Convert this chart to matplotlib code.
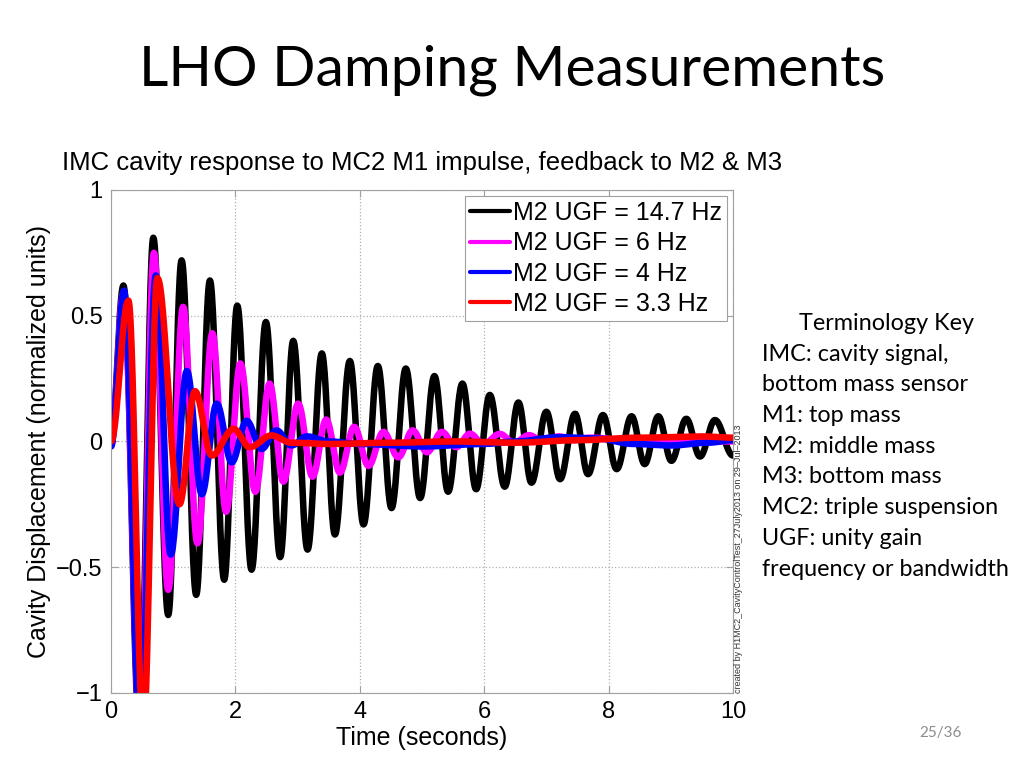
import numpy as np
import matplotlib.pyplot as plt

# extrema (time, value), one list per loop gain
black_t = [0, 0.20, 0.46, 0.68, 0.92, 1.135, 1.37, 1.59, 1.82, 2.03, 2.26, 2.49, 2.72, 2.93, 3.16,
           3.39, 3.60, 3.84, 4.06, 4.29, 4.51, 4.74, 4.97, 5.20, 5.42, 5.65, 5.87, 6.09, 6.33, 6.55,
           6.76, 7.00, 7.22, 7.46, 7.67, 7.91, 8.13, 8.37, 8.58, 8.80, 9.01, 9.25, 9.47, 9.71, 10.0]
black_y = [0.0, 0.62, -1.15, 0.81, -0.69, 0.72, -0.61, 0.64, -0.55, 0.54, -0.51, 0.475, -0.46, 0.40, -0.43,
           0.35, -0.37, 0.32, -0.33, 0.30, -0.265, 0.29, -0.225, 0.26, -0.20, 0.23, -0.19, 0.185, -0.18, 0.155,
           -0.164, 0.118, -0.15, 0.11, -0.13, 0.105, -0.11, 0.10, -0.09, 0.10, -0.077, 0.09, -0.06, 0.085, -0.056]

mag_t = [0, 0.20, 0.47, 0.69, 0.92, 1.16, 1.39, 1.63, 1.85, 2.08, 2.32, 2.55, 2.77, 3.01, 3.24, 3.46,
         3.68, 3.91, 4.14, 4.38, 4.62, 4.85, 5.08, 5.32, 5.55, 5.77, 5.99, 6.25, 6.48, 6.72, 6.95, 7.2,
         7.45, 7.7, 8.5, 10.0]
mag_y = [-0.02, 0.59, -1.15, 0.75, -0.59, 0.535, -0.405, 0.43, -0.28, 0.31, -0.20, 0.23, -0.16, 0.15, -0.14, 0.087,
         -0.124, 0.058, -0.097, 0.038, -0.063, 0.044, -0.043, 0.038, -0.023, 0.031, -0.01, 0.03, -0.005, 0.025, 0.0, 0.02,
         0.005, 0.015, 0.0, 0.0]

blue_t = [0, 0.21, 0.47, 0.72, 0.96, 1.22, 1.46, 1.70, 1.94, 2.18, 2.42, 2.66, 2.90, 3.15, 3.5, 4.0,
          5.0, 6.0, 6.5, 7.2, 7.8, 8.4, 9.0, 9.6, 10.0]
blue_y = [-0.02, 0.60, -1.15, 0.66, -0.45, 0.28, -0.21, 0.15, -0.083, 0.082, -0.03, 0.044, -0.016, 0.02, 0.0, -0.01,
          -0.02, -0.01, 0.0, 0.017, 0.012, -0.01, -0.016, -0.005, 0.005]

red_t = [0, 0.28, 0.52, 0.745, 1.10, 1.35, 1.62, 1.97, 2.23, 2.58, 2.9, 3.5, 4.5, 5.5, 6.5, 7.5, 8.5, 9.5, 10.0]
red_y = [0.0, 0.56, -1.15, 0.65, -0.25, 0.20, -0.056, 0.05, -0.023, 0.024, -0.005, -0.01, -0.005, 0.0, -0.005,
         0.005, 0.015, 0.02, 0.015]

labels = ['M2 UGF = 14.7 Hz', 'M2 UGF = 6 Hz', 'M2 UGF = 4 Hz', 'M2 UGF = 3.3 Hz']
colors = ['black', '#ff00ff', '#0000ff', '#ff0000']

xticks = [0, 2, 4, 6, 8, 10]
yticks = [-1, -0.5, 0, 0.5, 1]
ytick_labels = ['\u22121', '\u22120.5', '0', '0.5', '1']

key_lines = ['IMC: cavity signal,', 'bottom mass sensor', 'M1: top mass', 'M2: middle mass',
             'M3: bottom mass', 'MC2: triple suspension', 'UGF: unity gain', 'frequency or bandwidth']


def through_extrema(t, y, n=30):
    # join successive turning points with half-cosine arcs
    xs, ys = [], []
    for i in range(len(t) - 1):
        s = np.linspace(0, 1, n)
        w = (1 - np.cos(np.pi * s)) / 2
        xs.append(t[i] + (t[i + 1] - t[i]) * s)
        ys.append(y[i] + (y[i + 1] - y[i]) * w)
    return np.concatenate(xs), np.concatenate(ys)


fig = plt.figure(figsize=(10.24, 7.68), dpi=100)
fig.patch.set_facecolor('white')

fig.text(0.5, 0.908, 'LHO Damping Measurements', ha='center', va='center',
         fontsize=41, family='Lato')

ax = fig.add_axes([0.1084, 0.0977, 0.6074, 0.655])
series = [(black_t, black_y), (mag_t, mag_y), (blue_t, blue_y), (red_t, red_y)]
for (t, y), c, lab in zip(series, colors, labels):
    xs, ys = through_extrema(t, y)
    ax.plot(xs, ys, color=c, lw=4.7, label=lab, solid_capstyle='round')

ax.set_xlim(0, 10)
ax.set_ylim(-1, 1)
ax.set_xticks(xticks)
ax.set_yticks(yticks)
ax.set_yticklabels(ytick_labels)
ax.grid(True, linestyle=':', color='#b0b0b0', lw=0.9)
for s in ax.spines.values():
    s.set_color('#a0a0a0')
ax.tick_params(direction='in', length=5, color='#a0a0a0', labelsize=17,
               labelfontfamily='Liberation Sans', top=True, right=True, pad=6)
ax.set_xlabel('Time (seconds)', fontsize=18, family='Liberation Sans', labelpad=2)
ax.set_ylabel('Cavity Displacement (normalized units)', fontsize=18, family='Liberation Sans', labelpad=4)
ax.set_title('IMC cavity response to MC2 M1 impulse, feedback to M2 & M3', fontsize=18.5,
             family='Liberation Sans', pad=14, x=0.5)

leg = ax.legend(loc='upper right', prop={'family': 'Liberation Sans', 'size': 18},
                handlelength=1.6, handletextpad=0.1, borderpad=0.2, labelspacing=0.25,
                fancybox=False, framealpha=1, borderaxespad=0.25)
leg.get_frame().set_edgecolor('#a0a0a0')
leg.get_frame().set_linewidth(0.8)
for h in leg.get_lines():
    h.set_linewidth(3)

fig.text(0.7215, 0.0977, 'created by H1MC2_CavityControlTest_27July2013 on 29\u2013Jul\u20132013',
         rotation=90, ha='center', va='bottom', fontsize=6.5, family='Liberation Sans', color='#333333')

fig.text(0.866, 0.579, 'Terminology Key', ha='center', va='center', fontsize=16.8, family='Lato')
for i, line in enumerate(key_lines):
    fig.text(0.744, 0.539 - i * 0.0400, line, ha='left', va='center', fontsize=16.8, family='Lato')

fig.text(0.918, 0.045, '25/36', ha='center', va='center', fontsize=11, family='Lato', color='#8c8c8c')

fig.savefig('out.png', dpi=100)
